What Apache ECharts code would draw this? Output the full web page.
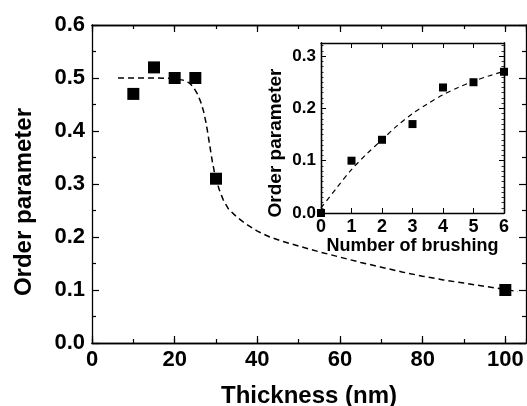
<!DOCTYPE html>
<html>
<head>
<meta charset="utf-8">
<script src="https://cdn.jsdelivr.net/npm/echarts@6/dist/echarts.min.js"></script>
<style>
html,body{margin:0;padding:0;background:#fff;}
#chart{width:527px;height:406px;}
</style>
</head>
<body>
<div id="chart"></div>
<script>
// Main panel: measured points
const thickness = [10, 15, 20, 25, 30, 100];
const orderParam = [0.47, 0.52, 0.50, 0.50, 0.31, 0.10];
// Main panel: dashed guide curve
const fitThickness = [6.3, 10, 15, 20, 22, 23.5, 24.5, 25.5, 26.3, 27, 27.6, 28.1, 28.6, 29.1, 29.6, 30.1, 30.8, 31.7, 33, 35, 37, 40, 43, 46, 50, 55, 60, 65, 70, 75, 80, 85, 90, 95, 100, 103];
const fitOrder = [0.500, 0.500, 0.500, 0.499, 0.496, 0.491, 0.483, 0.470, 0.455, 0.437, 0.415, 0.392, 0.367, 0.343, 0.323, 0.307, 0.289, 0.271, 0.253, 0.238, 0.226, 0.211, 0.200, 0.192, 0.183, 0.172, 0.162, 0.152, 0.143, 0.134, 0.126, 0.119, 0.113, 0.107, 0.101, 0.097];
// Inset: measured points
const brushing = [0, 1, 2, 3, 4, 5, 6];
const insetOrder = [0.0, 0.10, 0.14, 0.17, 0.24, 0.25, 0.27];
// Inset: dashed guide curve
const fitBrushing = [0, 0.5, 1, 1.5, 2, 2.5, 3, 3.5, 4, 4.5, 5, 5.5, 6];
const fitInset = [0.01, 0.047, 0.083, 0.113, 0.14, 0.167, 0.19, 0.209, 0.226, 0.24, 0.252, 0.262, 0.271];

const FONT = '"Liberation Sans", Arial, sans-serif';
const black = '#000';

function pairs(xs, ys) { return xs.map((x, i) => [x, ys[i]]); }

const axisLine = { show: true, onZero: false, lineStyle: { color: black, width: 1.3 } };

function ax(grid, pos, opts) {
  return Object.assign({
    type: 'value', gridIndex: grid, position: pos,
    axisLine: axisLine, splitLine: { show: false },
    axisTick: { show: true, inside: true, length: 7, lineStyle: { color: black, width: 1.2 } },
    axisLabel: { show: false }
  }, opts);
}

const chart = echarts.init(document.getElementById('chart'), null, { renderer: 'canvas' });
const option = {
  animation: false,
  backgroundColor: '#fff',
  grid: [
    { left: 92, top: 25, width: 434, height: 318, show: false, containLabel: false, outerBoundsMode: 'none' },
    { left: 321, top: 43, width: 183, height: 170, show: true, backgroundColor: '#fff', borderWidth: 0, containLabel: false, outerBoundsMode: 'none' }
  ],
  xAxis: [
    ax(0, 'bottom', {
      min: 0, max: 105, interval: 20,
      axisLabel: { show: true, showMaxLabel: false, margin: 6, color: black, fontFamily: FONT, fontWeight: 'bold', fontSize: 22 },
      name: 'Thickness (nm)', nameLocation: 'middle', nameGap: 41,
      nameTextStyle: { color: black, fontFamily: FONT, fontWeight: 'bold', fontSize: 24 }
    }),
    ax(0, 'bottom', { min: 0, max: 105, interval: 10, axisTick: { show: true, inside: true, length: 4, lineStyle: { color: black, width: 1.2 } } }),
    ax(0, 'top', { min: 0, max: 105, interval: 20 }),
    ax(0, 'top', { min: 0, max: 105, interval: 10, axisTick: { show: true, inside: true, length: 4, lineStyle: { color: black, width: 1.2 } } }),
    ax(1, 'bottom', {
      min: 0, max: 6, interval: 1,
      axisTick: { show: true, inside: true, length: 5, lineStyle: { color: black, width: 1 } },
      axisLabel: { show: true, margin: 5, color: black, fontFamily: FONT, fontWeight: 'bold', fontSize: 18 },
      name: 'Number of brushing', nameLocation: 'middle', nameGap: 24,
      nameTextStyle: { color: black, fontFamily: FONT, fontWeight: 'bold', fontSize: 18 }
    }),
    ax(1, 'top', { min: 0, max: 6, interval: 1, axisTick: { show: true, inside: true, length: 5, lineStyle: { color: black, width: 1 } } })
  ],
  yAxis: [
    ax(0, 'left', {
      min: 0, max: 0.6, interval: 0.1,
      minorTick: { show: true, splitNumber: 2, length: 4, lineStyle: { color: black, width: 1.2 } },
      axisLabel: { show: true, margin: 7, color: black, fontFamily: FONT, fontWeight: 'bold', fontSize: 22, formatter: v => v.toFixed(1) },
      name: 'Order parameter', nameLocation: 'middle', nameGap: 56,
      nameTextStyle: { color: black, fontFamily: FONT, fontWeight: 'bold', fontSize: 24, padding: [0, 36, 0, 0] }
    }),
    ax(0, 'right', {
      min: 0, max: 0.6, interval: 0.1,
      minorTick: { show: true, splitNumber: 2, length: 4, lineStyle: { color: black, width: 1.2 } }
    }),
    ax(1, 'left', {
      min: 0, max: 0.325, interval: 0.1,
      axisTick: { show: true, inside: true, length: 5, lineStyle: { color: black, width: 1 } },
      axisLabel: { show: true, showMaxLabel: false, margin: 5, color: black, fontFamily: FONT, fontWeight: 'bold', fontSize: 17, formatter: v => v.toFixed(1) },
      name: 'Order parameter', nameLocation: 'middle', nameGap: 36,
      nameTextStyle: { color: black, fontFamily: FONT, fontWeight: 'bold', fontSize: 19, padding: [0, 30, 0, 0] }
    }),
    ax(1, 'left', { min: 0, max: 0.325, interval: 0.01, axisTick: { show: true, inside: true, length: 2.5, lineStyle: { color: black, width: 0.8 } } }),
    ax(1, 'right', { min: 0, max: 0.325, interval: 0.1, axisTick: { show: true, inside: true, length: 5, lineStyle: { color: black, width: 1 } } }),
    ax(1, 'right', { min: 0, max: 0.325, interval: 0.01, axisTick: { show: true, inside: true, length: 2.5, lineStyle: { color: black, width: 0.8 } } })
  ],
  series: [
    {
      type: 'line', xAxisIndex: 0, yAxisIndex: 0,
      data: pairs(fitThickness, fitOrder),
      showSymbol: false, smooth: false,
      lineStyle: { color: black, width: 1.5, type: [6, 4] }, z: 3
    },
    {
      type: 'scatter', xAxisIndex: 0, yAxisIndex: 0,
      data: pairs(thickness, orderParam),
      symbol: 'rect', symbolSize: 12, itemStyle: { color: black, opacity: 1 }, z: 4
    },
    {
      type: 'line', xAxisIndex: 4, yAxisIndex: 2,
      data: pairs(fitBrushing, fitInset),
      showSymbol: false, smooth: 0.3,
      lineStyle: { color: black, width: 1.2, type: [5, 4] }, z: 3
    },
    {
      type: 'scatter', xAxisIndex: 4, yAxisIndex: 2,
      data: pairs(brushing, insetOrder),
      symbol: 'rect', symbolSize: 8, itemStyle: { color: black, opacity: 1 }, z: 4
    }
  ]
};
chart.setOption(option);
</script>
</body>
</html>
